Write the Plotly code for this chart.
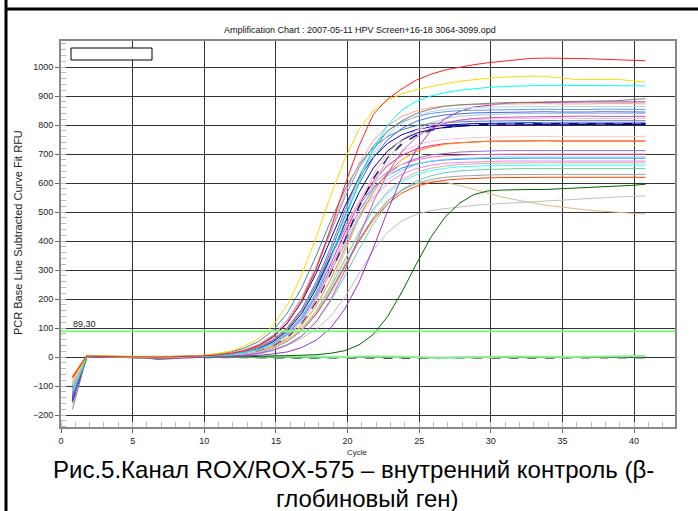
import plotly.graph_objects as go

# ---------------- data ----------------
cycles = list(range(1, 42))          # 41 readings per well
cycle_shift = -0.2                   # instrument plots cycle n at n-0.2
y_ticks = list(range(-200, 1001, 100))
x_ticks = list(range(0, 41, 5))
threshold = 89.30
chart_title = "Amplification Chart : 2007-05-11 HPV Screen+16-18 3064-3099.opd"
y_title = "PCR Base Line Subtracted Curve Fit RFU"
x_title = "Cycle"
caption_1 = "Рис.5.Канал ROX/ROX-575 – внутренний контроль (β-"
caption_2 = "глобиновый ген)"

flat_lightgreen = [-150, 3, 2, 1, 0, 1, 2, 1, 0, 1,
                   1, 2, 2, 3, 3, 2, 1, 0, -1, 0, 2, 3, 2, 1, 0, -2, -3, -1, 0, 1, 2, 2, 1, 0, -1, 0, 1, 2, 3, 3, 4]
flat_seagreen = [-155, 2, 1, 0, -1, -1, -2, -1, 0, 0,
                 0, 0, -1, -1, -2, -2, -3, -3, -2, -1, 0, 0, -1, -2, -2, -3, -3, -2, -2, -1, -1, -1, -2, -2, -3, -2, -1, 0, 0, 1, 2]
flat_dimgray = [-145, 3, 1, 0, -1, -2, -3, -2, -1, -1,
                -1, -2, -2, -3, -3, -3, -2, -2, -3, -3, -3, -3, -4, -4, -3, -3, -3, -3, -4, -4, -3, -3, -3, -3, -3, -3, -3, -2, -2, -2, -2]
flat_steel = [-130, 4, 2, 1, 0, 0, -1, 0, 1, 2,
              2, 2, 1, 1, 0, 0, 1, 1, 2, 2, 1, 0, 0, -1, -1, 0, 1, 1, 2, 2, 1, 1, 0, 0, 0, 1, 1, 2, 2, 2, 2]

red = [-70, 4, 2, 1, 0, -1, 0, 1, 2, 4,
       7, 12, 22, 39, 68, 116, 193, 302, 440, 590, 728, 837, 890, 925, 955, 975, 990, 1000, 1008, 1015,
       1020, 1025, 1030, 1031, 1031, 1030, 1029, 1027, 1025, 1024, 1022]
gold = [-90, 5, 3, 1, 0, 0, -1, 0, 2, 5,
        12, 20, 37, 64, 109, 180, 283, 412, 553, 682, 785, 850, 885, 908, 922, 933, 943, 951, 957, 962,
        965, 968, 969, 968, 963, 958, 957, 958, 958, 953, 948]
cyan = [-110, 3, 2, 1, 0, -1, -2, -1, 1, 2,
        5, 8, 15, 27, 47, 82, 137, 222, 336, 470, 604, 718, 800, 852, 882, 900, 912, 920, 926, 930,
        933, 935, 936, 937, 937, 937, 937, 936, 936, 936, 935]
gray = [-180, 2, 1, 0, -1, -3, -6, -3, 0, 2,
        6, 11, 18, 33, 58, 99, 165, 258, 376, 504, 622, 715, 780, 815, 840, 855, 865, 870, 873, 875,
        877, 878, 879, 880, 880, 880, 881, 882, 884, 888, 891]
salmon = [-75, 4, 3, 2, 1, 0, 1, 2, 3, 5,
          8, 14, 25, 44, 76, 128, 206, 312, 437, 562, 668, 746, 798, 830, 849, 860, 866, 869, 871, 872,
          873, 874, 875, 874, 873, 872, 873, 874, 875, 874, 873]
lightblue = [-120, 3, 2, 0, -1, -2, -1, 0, 1, 3,
             6, 10, 18, 33, 57, 98, 162, 253, 369, 495, 611, 702, 766, 807, 831, 846, 854, 858, 861, 862,
             863, 864, 864, 865, 865, 864, 864, 863, 864, 865, 864]
cornflower = [-130, 2, 1, 0, -1, -2, -4, -2, 0, 3,
              8, 14, 24, 43, 74, 125, 202, 305, 427, 549, 652, 729, 780, 811, 829, 840, 846, 850, 851, 852,
              853, 854, 854, 855, 854, 853, 854, 855, 855, 854, 854]
royalblue = [-140, 3, 2, 1, 0, -1, -2, -1, 1, 2,
             6, 10, 18, 32, 56, 95, 158, 248, 361, 484, 597, 687, 750, 789, 813, 827, 835, 839, 842, 843,
             844, 845, 845, 846, 845, 844, 845, 846, 845, 845, 845]
purple_late = [-150, 2, 0, -1, -2, -3, -8, -5, -2, 0,
               1, 2, 4, 6, 11, 18, 33, 58, 99, 165, 258, 376, 504, 622, 715, 780, 822, 847, 862, 869,
               874, 877, 878, 879, 879, 880, 880, 880, 880, 880, 880]
orchid = [-130, 3, 1, 0, -1, -2, -3, -2, 0, 1,
          2, 4, 7, 13, 24, 42, 72, 121, 196, 296, 415, 534, 634, 709, 758, 789, 806, 817, 823, 826,
          827, 828, 829, 830, 830, 830, 831, 830, 830, 830, 830]
pink = [-100, 3, 2, 1, 1, 0, 0, 1, 2, 2,
        4, 7, 13, 23, 41, 72, 120, 194, 294, 412, 529, 629, 703, 751, 782, 799, 810, 816, 819, 821,
        822, 823, 823, 823, 824, 823, 823, 822, 823, 823, 823]
mediumblue = [-120, 2, 1, 0, -1, -1, -2, -1, 1, 3,
              7, 13, 23, 40, 70, 118, 190, 288, 404, 519, 617, 689, 737, 767, 784, 794, 800, 803, 805, 806,
              807, 807, 808, 807, 807, 806, 807, 807, 808, 807, 807]
navy = [-140, 2, 1, 0, 0, -1, -2, -1, 0, 2,
        6, 10, 17, 30, 53, 91, 150, 235, 342, 460, 567, 652, 711, 749, 772, 785, 792, 796, 799, 800,
        801, 802, 802, 802, 801, 802, 802, 803, 802, 802, 802]
steelblue = [-110, 4, 2, 1, 0, 0, -1, 1, 3, 5,
             10, 17, 31, 54, 92, 152, 239, 348, 467, 576, 663, 723, 761, 784, 798, 805, 809, 812, 813, 814,
             815, 815, 815, 816, 815, 815, 814, 815, 815, 815, 815]
lightsteel = [-95, 3, 2, 1, 0, -1, -1, 0, 1, 2,
              3, 6, 10, 18, 32, 55, 95, 157, 246, 359, 481, 594, 683, 745, 785, 808, 822, 830, 834, 837,
              838, 840, 840, 841, 840, 840, 839, 840, 841, 840, 840]
midnight = [-150, 2, 1, 0, -1, -2, -2, -1, 0, 2,
            4, 7, 13, 23, 40, 70, 118, 190, 287, 403, 518, 615, 687, 735, 765, 782, 792, 798, 801, 803,
            804, 805, 805, 805, 805, 805, 805, 805, 805, 805, 805]
lightpink = [-90, 4, 2, 1, 0, 0, 1, 1, 2, 3,
             5, 9, 16, 29, 50, 86, 142, 223, 325, 435, 537, 618, 674, 710, 731, 744, 751, 755, 757, 758,
             759, 760, 760, 761, 760, 760, 759, 760, 760, 760, 760]
darkorange = [-65, 6, 4, 2, 1, 0, 1, 2, 3, 3,
              4, 7, 12, 21, 37, 65, 109, 176, 266, 373, 480, 570, 637, 681, 709, 724, 734, 739, 742, 744,
              745, 746, 746, 746, 746, 746, 746, 746, 746, 746, 746]
deeppink = [-100, 3, 2, 1, 0, -1, -1, 0, 2, 3,
            5, 9, 16, 28, 49, 84, 139, 218, 318, 427, 527, 606, 661, 696, 717, 729, 736, 740, 742, 744,
            745, 745, 745, 746, 745, 745, 744, 745, 745, 745, 745]
lemon = [-110, 2, 1, 0, 0, 0, 0, 1, 2, 3,
         4, 7, 12, 21, 37, 64, 107, 172, 261, 365, 469, 558, 623, 666, 694, 709, 718, 723, 726, 728,
         729, 730, 730, 730, 730, 730, 730, 730, 730, 730, 730]
mediumpurple = [-135, 2, 1, 0, -1, -2, -3, -2, 0, 2,
                5, 9, 15, 27, 47, 80, 133, 209, 304, 408, 503, 579, 632, 665, 685, 697, 703, 707, 709, 711,
                712, 712, 712, 713, 712, 712, 711, 712, 712, 712, 712]
hotpink = [-85, 4, 3, 1, 0, 0, 1, 2, 3, 4,
           6, 11, 20, 35, 61, 102, 165, 250, 350, 450, 535, 598, 639, 665, 680, 689, 694, 697, 698, 699,
           700, 700, 700, 700, 700, 700, 700, 700, 700, 700, 700]
lightskyblue = [-120, 3, 2, 1, 0, -1, -1, 0, 1, 3,
                5, 8, 14, 26, 46, 78, 129, 202, 295, 395, 488, 561, 612, 644, 664, 676, 682, 685, 687, 689,
                690, 690, 690, 691, 690, 690, 690, 690, 690, 690, 690]
dodgerblue = [-125, 3, 1, 0, -1, -2, -2, -1, 1, 3,
              6, 11, 20, 34, 60, 100, 162, 245, 343, 441, 524, 586, 626, 652, 666, 675, 680, 683, 684, 685,
              686, 686, 686, 686, 686, 686, 686, 686, 686, 686, 686]
violet = [-100, 3, 2, 1, 0, 0, -1, 0, 1, 3,
          5, 8, 14, 26, 45, 76, 126, 198, 289, 387, 478, 550, 600, 631, 650, 662, 668, 671, 673, 675,
          676, 676, 676, 676, 676, 676, 676, 676, 676, 676, 676]
tan = [-115, 2, 1, 0, -1, -1, -2, -1, 0, 1,
       3, 6, 11, 19, 34, 58, 98, 158, 239, 335, 431, 512, 572, 612, 637, 651, 659, 664, 667, 668,
       669, 670, 670, 670, 670, 670, 670, 670, 670, 670, 670]
cyan2 = [-130, 2, 1, 0, -1, -2, -2, -1, 0, 1,
         3, 6, 11, 19, 33, 58, 97, 156, 236, 331, 426, 506, 565, 604, 629, 643, 651, 656, 659, 660,
         661, 662, 662, 662, 662, 662, 662, 662, 662, 662, 662]
aquamarine = [-145, 2, 1, 0, -1, -2, -2, -1, 0, 1,
              3, 5, 8, 14, 25, 43, 73, 122, 190, 278, 372, 460, 528, 577, 607, 625, 636, 642, 645, 647,
              649, 650, 650, 650, 650, 650, 650, 650, 650, 650, 650]
darkgray = [-160, 2, 1, 0, -1, -2, -3, -2, 0, 1,
            3, 6, 10, 18, 32, 55, 92, 149, 225, 315, 405, 481, 538, 575, 599, 612, 620, 624, 627, 628,
            629, 630, 630, 630, 630, 630, 630, 630, 630, 630, 630]
orangered = [-70, 5, 3, 2, 1, 0, 1, 1, 2, 2,
             3, 6, 10, 18, 31, 54, 91, 146, 221, 310, 399, 474, 529, 566, 589, 602, 610, 614, 617, 618,
             619, 620, 620, 620, 620, 620, 620, 620, 620, 620, 620]
darkgreen = [-150, 2, 1, 0, -1, -1, -2, -1, 0, 0,
             0, 1, 1, 2, 3, 4, 5, 8, 13, 22, 42, 78, 140, 225, 320, 412, 482, 530, 560, 573,
             576, 578, 578, 578, 580, 583, 585, 588, 590, 592, 596]
silver = [-110, 2, 1, 0, 0, -1, -1, 0, 1, 2,
          3, 4, 6, 10, 22, 40, 65, 95, 140, 205, 290, 370, 430, 470, 492, 505, 512, 518, 523, 527,
          530, 533, 535, 537, 540, 543, 546, 549, 552, 554, 556]
burlywood = [-95, 3, 2, 1, 0, 0, -1, 0, 1, 2,
             3, 6, 10, 18, 32, 56, 93, 150, 228, 318, 405, 480, 540, 578, 598, 605, 603, 592, 578, 565,
             552, 542, 532, 524, 518, 512, 507, 503, 499, 496, 493]

# ---------------- styles ----------------
wells = [
    (flat_steel, "#B0C4DE", "solid", 1),
    (flat_dimgray, "#505050", "dash", 1.5),
    (flat_seagreen, "#2E8B57", "dash", 1.5),
    (flat_lightgreen, "#90EE90", "solid", 2),
    (burlywood, "#DEB887", "solid", 1),
    (silver, "#C0C0C0", "solid", 1),
    (darkgreen, "#006400", "solid", 1),
    (orangered, "#FF4500", "solid", 1),
    (darkgray, "#A0A0A0", "solid", 1),
    (aquamarine, "#66CDAA", "solid", 1),
    (cyan2, "#33FFFF", "solid", 1),
    (tan, "#D2B48C", "solid", 1),
    (violet, "#EE82EE", "solid", 1),
    (dodgerblue, "#1E90FF", "solid", 1),
    (lightskyblue, "#87CEFA", "solid", 1),
    (hotpink, "#FF69B4", "solid", 1),
    (mediumpurple, "#9370DB", "solid", 1),
    (lemon, "#FFFACD", "solid", 1),
    (deeppink, "#FF1493", "solid", 1),
    (darkorange, "#FF8C00", "solid", 1),
    (lightpink, "#FFC0CB", "solid", 1),
    (midnight, "#191970", "dash", 1.5),
    (lightsteel, "#B0C4DE", "solid", 1),
    (steelblue, "#4682B4", "solid", 1),
    (navy, "#000080", "solid", 1),
    (mediumblue, "#0000CD", "solid", 1),
    (pink, "#FFB6C1", "solid", 1),
    (orchid, "#BA55D3", "solid", 1),
    (purple_late, "#9932CC", "solid", 1),
    (royalblue, "#4169E1", "solid", 1),
    (cornflower, "#6495ED", "solid", 1),
    (lightblue, "#ADD8E6", "solid", 1),
    (salmon, "#FFA07A", "solid", 1),
    (gray, "#808080", "solid", 1),
    (cyan, "#00FFFF", "solid", 1),
    (gold, "#FFD700", "solid", 1),
    (red, "#FF2020", "solid", 1),
]

x_pos = [c + cycle_shift for c in cycles]

fig = go.Figure()
for vals, col, dash, w in wells:
    fig.add_trace(go.Scatter(x=x_pos[:len(vals)], y=vals, mode="lines",
                             line=dict(color=col, width=w, dash=dash),
                             showlegend=False, hoverinfo="skip"))

# threshold line
fig.add_hline(y=threshold, line=dict(color="#7CF87C", width=2), layer="above")

W, H = 698, 511
L, R, T, B = 61, 23, 41, 84
pw, ph = W - L - R, H - T - B

def px(xp):
    return (xp - L) / pw

def py(yp):
    return (H - B - yp) / ph

font_main = "Liberation Sans, Arial, sans-serif"

fig.update_layout(
    width=W, height=H,
    margin=dict(l=L, r=R, t=T, b=B, pad=0),
    paper_bgcolor="white", plot_bgcolor="white",
    font=dict(family=font_main, color="#222", size=9),
    showlegend=False,
)
fig.update_xaxes(range=[0, 42.86], tickvals=x_ticks, ticks="outside", ticklen=4,
                 tickcolor="#666", tickfont=dict(size=9, color="#222"),
                 showgrid=True, gridcolor="#333", gridwidth=1, zeroline=False,
                 showline=True, linecolor="#888", linewidth=2, mirror=True,
                 minor=dict(dtick=1, tick0=0, ticks="inside", ticklen=5, tickcolor="#BBB", showgrid=False))
fig.update_yaxes(range=[-241, 1090], tickvals=y_ticks, ticks="outside", ticklen=4,
                 tickcolor="#666", tickfont=dict(size=9, color="#222"),
                 showgrid=True, gridcolor="#333", gridwidth=1, zeroline=False,
                 showline=True, linecolor="#888", linewidth=2, mirror=True,
                 minor=dict(dtick=20, tick0=0, ticks="inside", ticklen=5, tickcolor="#BBB", showgrid=False))

ann = [
    dict(text=chart_title, x=px(360), y=py(30), xref="paper", yref="paper",
         showarrow=False, font=dict(size=9, color="#111"), xanchor="center", yanchor="middle"),
    dict(text=y_title, x=px(18), y=py(233), xref="paper", yref="paper", textangle=-90,
         showarrow=False, font=dict(size=11, color="#222"), xanchor="center", yanchor="middle"),
    dict(text=x_title, x=px(357), y=py(452), xref="paper", yref="paper",
         showarrow=False, font=dict(size=8, color="#222"), xanchor="center", yanchor="middle"),
    dict(text=f"{threshold:.2f}".replace(".", ","), x=0.7, y=threshold, xref="x", yref="y",
         showarrow=False, font=dict(size=9, color="#222"), xanchor="left", yanchor="bottom"),
    dict(text=caption_1, x=px(353), y=py(469), xref="paper", yref="paper",
         showarrow=False, font=dict(size=24, color="#000", family=font_main), xanchor="center", yanchor="middle"),
    dict(text=caption_2, x=px(367), y=py(498), xref="paper", yref="paper",
         showarrow=False, font=dict(size=24, color="#000", family=font_main), xanchor="center", yanchor="middle"),
]
fig.update_layout(annotations=ann)

shapes = [
    # empty legend box
    dict(type="rect", xref="paper", yref="paper", x0=px(71), x1=px(152), y0=py(60), y1=py(48),
         line=dict(color="#000", width=1), fillcolor="white", layer="above"),
    # table-cell frame: left and top
    dict(type="line", xref="paper", yref="paper", x0=px(6), x1=px(6), y0=py(H), y1=py(0),
         line=dict(color="#000", width=3)),
    dict(type="line", xref="paper", yref="paper", x0=px(5), x1=px(W), y0=py(9), y1=py(9),
         line=dict(color="#000", width=3)),
]
fig.update_layout(shapes=list(fig.layout.shapes) + shapes)

fig.write_html("out.html")
